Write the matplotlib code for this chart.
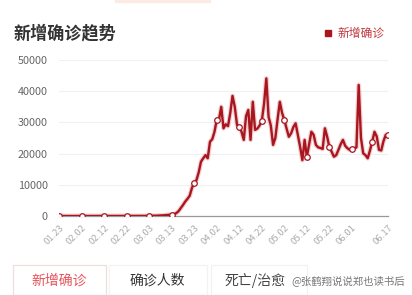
import matplotlib
matplotlib.use("Agg")
import matplotlib.pyplot as plt
import matplotlib.patches as mpatches
import numpy as np

plt.rcParams['font.family'] = ['Noto Sans CJK SC', 'DejaVu Sans']

# daily new confirmed cases, 01.23 .. 06.17 (day 0 .. 146)
new_cases = [
    0, 0, 0, 0, 0, 0, 0, 0, 0, 0,
    0, 0, 0, 0, 0, 0, 0, 0, 0, 0,
    0, 0, 0, 0, 0, 0, 0, 0, 0, 0,
    0, 0, 0, 10, 10, 20, 20, 30, 30, 40,
    50, 60, 80, 100, 130, 170, 200, 260, 300, 350,
    450, 600, 900, 1500, 2500, 3500, 4600, 5500, 6500, 9000,
    10700, 11500, 14000, 17400, 18500, 19500, 18500, 23800, 24600, 27000,
    30800, 31000, 35000, 28100, 29400, 28800, 33000, 38500, 35000, 29200,
    28500, 27000, 24400, 32000, 34000, 24400, 36600, 27600, 28000, 29000,
    30500, 36000, 44100, 31800, 29000, 22800, 25000, 31000, 36600, 33000,
    30800, 28000, 25400, 26500, 28500, 29700, 26000, 22200, 17900, 24400,
    19000, 23000, 27000, 26000, 22800, 22000, 21800, 21500, 28100, 25400,
    22000, 20600, 19000, 19500, 21200, 23000, 24400, 22500, 21700, 21200,
    21500, 21700, 22000, 42000, 25000, 20100, 19500, 18500, 21000, 23800,
    27000, 25500, 21200, 21000, 24000, 26000, 26000,
]
tick_days = [0, 10, 20, 30, 40, 50, 60, 70, 80, 90, 100, 110, 120, 130, 146]
tick_labels = ['01.23', '02.02', '02.12', '02.22', '03.03', '03.13', '03.23',
               '04.02', '04.12', '04.22', '05.02', '05.12', '05.22', '06.01', '06.17']
marker_days = [0, 10, 20, 30, 40, 50, 60, 70, 80, 90, 100, 110, 120, 130, 139, 146]
y_ticks = [0, 10000, 20000, 30000, 40000, 50000]
tabs = ['新增确诊', '确诊人数', '死亡/治愈']

red = '#a8161f'
days = np.arange(len(new_cases))
vals = np.array(new_cases)

fig = plt.figure(figsize=(4.12, 2.95), dpi=100)
ax = fig.add_axes([59/412, 1 - 216/295, 329/412, 156/295])

ax.plot(days, vals, color='#e8a0a4', lw=3.4, alpha=0.5, solid_joinstyle='round', zorder=2)
ax.plot(days, vals, color=red, lw=1.7, solid_joinstyle='round', zorder=3)
ax.plot(marker_days, vals[marker_days], 'o', ms=4, mfc='white', mec=red, mew=0.9, zorder=4)

ax.set_xlim(0, 146)
ax.set_ylim(0, 50000)
ax.set_yticks(y_ticks)
ax.set_yticklabels([str(v) for v in y_ticks])
ax.set_xticks(tick_days)
ax.set_xticklabels(tick_labels, rotation=45, ha='right', va='top', rotation_mode='anchor')
ax.tick_params(axis='y', length=0, pad=8, labelsize=7.8, labelcolor='#666666')
ax.tick_params(axis='x', length=0, pad=5, labelsize=6.8, labelcolor='#acacac')
ax.grid(axis='y', color='#f0f0f0', lw=0.8)
ax.set_axisbelow(True)
for s in ['top', 'right', 'left']:
    ax.spines[s].set_visible(False)
ax.spines['bottom'].set_color('#999999')
ax.spines['bottom'].set_linewidth(0.9)

# title and legend
fig.text(14/412, 1 - 33/295, '新增确诊趋势', fontsize=12.3, fontweight='bold', color='#333333', va='center')
fig.patches.append(mpatches.Rectangle((325/412, 1 - 36/295), 6/412, 6/295,
                                      transform=fig.transFigure, color=red))
fig.text(338/412, 1 - 33/295, '新增确诊', fontsize=8.5, color='#c0393f', va='center')

# faint top tab highlight
fig.patches.append(mpatches.Rectangle((115/412, 1 - 2/295), 95/412, 2/295,
                                      transform=fig.transFigure, color='#fcebe3'))

# bottom tabs
tab_x = [13, 109, 211]
tab_w = [93, 98, 96]
tab_colors = ['#e4555a', '#333333', '#444444']
for x, w in zip(tab_x, tab_w):
    edge = '#f0dede' if x == 13 else '#f2f2f2'
    fig.patches.append(mpatches.Rectangle((x/412, 0), w/412, 30/295, transform=fig.transFigure,
                                          fill=False, ec=edge, lw=0.9))
for x, label, c in zip([31, 130, 225], tabs, tab_colors):
    fig.text(x/412, 1 - 281/295, label, fontsize=10, color=c, va='center')
fig.text(291/412, 1 - 281/295, '@张鹤翔说说郑也读书后', fontsize=7.5, color='#555555',
         va='center', alpha=0.8)

fig.savefig('out.png', dpi=100)
